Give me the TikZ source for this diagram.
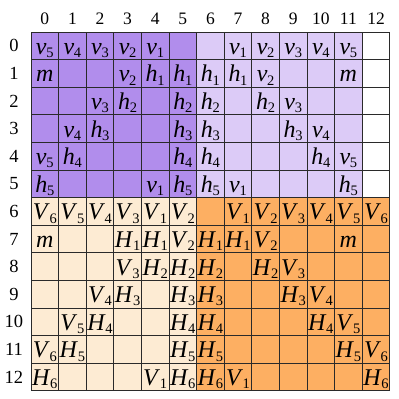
\documentclass[tikz,border=0pt]{standalone}
\usepackage{fontspec}
\setmainfont{Liberation Serif}
\definecolor{dpurple}{HTML}{B18DEC}
\definecolor{lpurple}{HTML}{DCCBF7}
\definecolor{beige}{HTML}{FDEBD3}
\definecolor{orng}{HTML}{FDAF62}
\definecolor{gridc}{HTML}{2A2A2A}
\newcommand\cv[2]{\textit{#1}\kern-0.3pt\raisebox{-3.2pt}{\fontsize{14.5}{14.5}\selectfont #2}}
\begin{document}
\begin{tikzpicture}[x=1pt,y=-1pt,
  cellt/.style={font=\fontsize{24}{24}\selectfont, inner sep=0pt, anchor=base},
  idx/.style={font=\fontsize{17.5}{17.5}\selectfont, inner sep=0pt, anchor=center}]
\useasboundingbox (0,0) rectangle (399,399);
\def\c{27.6}
\def\ox{31}
\def\oy{32}
% fills
\fill[dpurple] (\ox,\oy) rectangle ++(6*\c,6*\c);
\fill[lpurple] (\ox+6*\c,\oy) rectangle ++(6*\c,6*\c);
\fill[white] (\ox+12*\c,\oy) rectangle ++(\c,6*\c);
\fill[beige] (\ox,\oy+6*\c) rectangle ++(6*\c,7*\c);
\fill[orng] (\ox+6*\c,\oy+6*\c) rectangle ++(7*\c,7*\c);
% grid
\foreach \i in {0,...,13}{
  \draw[gridc,line width=0.9pt] (\ox+\i*\c,\oy) -- (\ox+\i*\c,\oy+13*\c);
  \draw[gridc,line width=0.9pt] (\ox,\oy+\i*\c) -- (\ox+13*\c,\oy+\i*\c);
}
% indices
\foreach \i in {0,...,12}{
  \node[idx] (col\i) at (\ox+\i*\c+0.5*\c,19) {\i};
  \node[idx,font=\fontsize{18.5}{18.5}\selectfont] (row\i) at (14,\oy+\i*\c+0.5*\c) {\i};
}
% cell contents: row/col/letter/sub
\foreach \r/\k/\l/\s in {
 0/0/v/5, 0/1/v/4, 0/2/v/3, 0/3/v/2, 0/4/v/1, 0/7/v/1, 0/8/v/2, 0/9/v/3, 0/10/v/4, 0/11/v/5,
 1/3/v/2, 1/4/h/1, 1/5/h/1, 1/6/h/1, 1/7/h/1, 1/8/v/2,
 2/2/v/3, 2/3/h/2, 2/5/h/2, 2/6/h/2, 2/8/h/2, 2/9/v/3,
 3/1/v/4, 3/2/h/3, 3/5/h/3, 3/6/h/3, 3/9/h/3, 3/10/v/4,
 4/0/v/5, 4/1/h/4, 4/5/h/4, 4/6/h/4, 4/10/h/4, 4/11/v/5,
 5/0/h/5, 5/4/v/1, 5/5/h/5, 5/6/h/5, 5/7/v/1, 5/11/h/5,
 6/0/V/6, 6/1/V/5, 6/2/V/4, 6/3/V/3, 6/4/V/1, 6/5/V/2, 6/7/V/1, 6/8/V/2, 6/9/V/3, 6/10/V/4, 6/11/V/5, 6/12/V/6,
 7/3/H/1, 7/4/H/1, 7/5/V/2, 7/6/H/1, 7/7/H/1, 7/8/V/2,
 8/3/V/3, 8/4/H/2, 8/5/H/2, 8/6/H/2, 8/8/H/2, 8/9/V/3,
 9/2/V/4, 9/3/H/3, 9/5/H/3, 9/6/H/3, 9/9/H/3, 9/10/V/4,
 10/1/V/5, 10/2/H/4, 10/5/H/4, 10/6/H/4, 10/10/H/4, 10/11/V/5,
 11/0/V/6, 11/1/H/5, 11/5/H/5, 11/6/H/5, 11/11/H/5, 11/12/V/6,
 12/0/H/6, 12/4/V/1, 12/5/H/6, 12/6/H/6, 12/7/V/1, 12/12/H/6}{
  \node[cellt] (t\r-\k) at (\ox+\k*\c+0.5*\c,\oy+\r*\c+22.3) {\cv{\l}{\s}};
}
\foreach \r/\k in {1/0, 1/11, 7/0, 7/11}{
  \node[cellt] (m\r-\k) at (\ox+\k*\c+0.5*\c,\oy+\r*\c+22) {\textit{m}};
}
\end{tikzpicture}
\end{document}
